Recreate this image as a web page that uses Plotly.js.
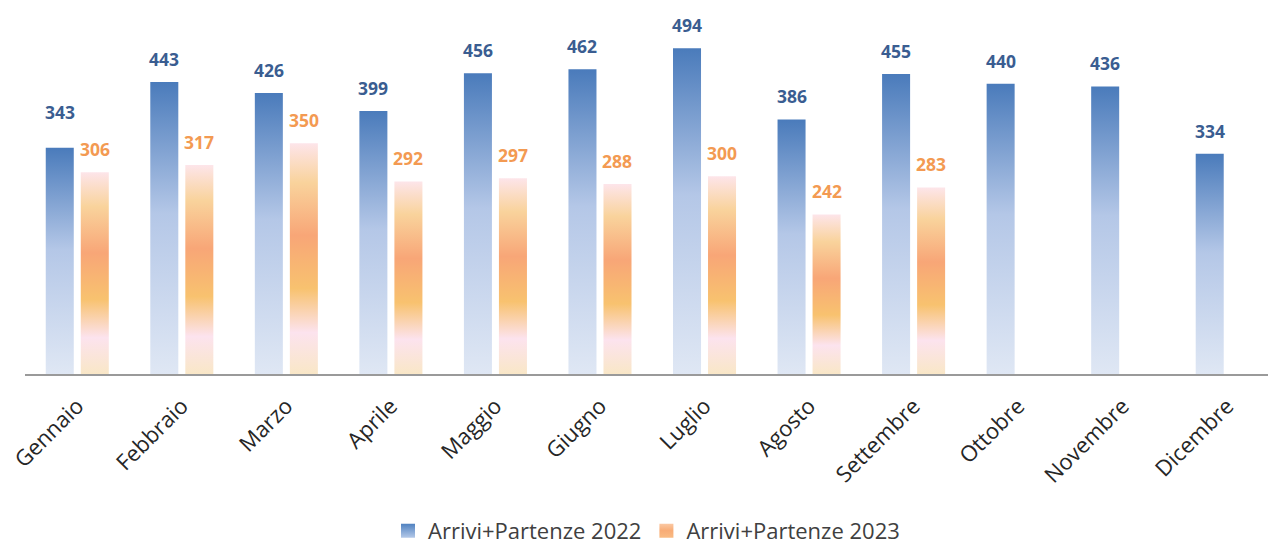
<!DOCTYPE html>
<html>
<head>
<meta charset="utf-8">
<script src="https://cdn.plot.ly/plotly-3.0.1.min.js"></script>
<style>
  html, body { margin: 0; padding: 0; background: #fff; }
  #chart { width: 1268px; height: 545px; }
</style>
</head>
<body>
<div id="chart"></div>
<script>
const months = ["Gennaio","Febbraio","Marzo","Aprile","Maggio","Giugno","Luglio","Agosto","Settembre","Ottobre","Novembre","Dicembre"];
const values2022 = [343,443,426,399,456,462,494,386,455,440,436,334];
const values2023 = [306,317,350,292,297,288,300,242,283,null,null,null];
const seriesNames = ["Arrivi+Partenze 2022","Arrivi+Partenze 2023"];

// styling
const labelColors = ["#3a5d91", "#f39a52"];
const swatchColors = ["#6f97cc", "#f7b27a"];
const gradStops = [
  [[0,"#4a7bbb"],[0.45,"#b4c7e7"],[1,"#dfe7f4"]],
  [[0,"#fde5ea"],[0.17,"#f9d39c"],[0.40,"#f8a677"],[0.63,"#f8c26f"],[0.82,"#fce3ee"],[1,"#f9e7c7"]]
];
const legendStops = [
  [[0,"#4f81c0"],[1,"#b3c8e8"]],
  [[0,"#fbc9a4"],[0.5,"#f8ac76"],[1,"#f9bb83"]]
];
const groupShift = 17.5;
const labelLift = 23;
const extraLift2022 = [13,0,0,0,0,0,0,0,0,0,0,0];

const traces = [values2022, values2023].map((vals, k) => ({
  type: "bar",
  name: seriesNames[k],
  x: months,
  y: vals,
  marker: { color: swatchColors[k], line: { width: 0 } },
  hoverinfo: "skip"
}));

const annotations = [];
[values2022, values2023].forEach((vals, k) => {
  vals.forEach((v, i) => {
    if (v === null) return;
    annotations.push({
      x: months[i], y: v, xref: "x", yref: "y",
      text: String(v), showarrow: false,
      xshift: k === 0 ? -groupShift : groupShift,
      yshift: labelLift + (k === 0 ? extraLift2022[i] : 0),
      font: { family: "Open Sans, sans-serif", size: 17.5, color: labelColors[k], weight: "bold" }
    });
  });
});

const layout = {
  width: 1268, height: 545,
  margin: { l: 25, r: 0, t: 10, b: 171 },
  paper_bgcolor: "#ffffff", plot_bgcolor: "#ffffff",
  barmode: "group", bargap: 0.33, bargroupgap: 0.2,
  font: { family: "Open Sans, sans-serif", color: "#262626" },
  xaxis: {
    type: "category",
    range: [-0.5, 11.39],
    showline: true, linecolor: "#9a9a9a", linewidth: 1.5,
    ticks: "", showgrid: false, zeroline: false,
    tickangle: -45,
    tickfont: { size: 22, color: "#262626" },
    ticklabelstandoff: 9
  },
  yaxis: { range: [0, 552], visible: false, showgrid: false, zeroline: false },
  showlegend: true,
  legend: {
    orientation: "h", x: 0.5, xanchor: "center",
    yref: "container", y: 0.026, yanchor: "middle",
    font: { size: 22, color: "#404040" },
    tracegroupgap: 0
  },
  annotations: annotations
};

function addGradient(defs, id, stops) {
  const svgNS = "http://www.w3.org/2000/svg";
  const g = document.createElementNS(svgNS, "linearGradient");
  g.setAttribute("id", id);
  g.setAttribute("x1", "0"); g.setAttribute("y1", "0");
  g.setAttribute("x2", "0"); g.setAttribute("y2", "1");
  stops.forEach(([o, c]) => {
    const s = document.createElementNS(svgNS, "stop");
    s.setAttribute("offset", o);
    s.setAttribute("stop-color", c);
    g.appendChild(s);
  });
  defs.appendChild(g);
}

Plotly.newPlot("chart", traces, layout, { staticPlot: true, displayModeBar: false }).then(gd => {
  const svgNS = "http://www.w3.org/2000/svg";
  const svg = gd.querySelector("svg.main-svg");
  let defs = svg.querySelector("defs");
  if (!defs) { defs = document.createElementNS(svgNS, "defs"); svg.insertBefore(defs, svg.firstChild); }
  gradStops.forEach((stops, k) => addGradient(defs, "barGrad" + k, stops));
  legendStops.forEach((stops, k) => addGradient(defs, "legGrad" + k, stops));
  gd.querySelectorAll(".barlayer .trace").forEach((t, k) => {
    t.querySelectorAll("path").forEach(p => { p.style.fill = "url(#barGrad" + k + ")"; });
  });
  gd.querySelectorAll(".legend .traces").forEach((t, k) => {
    t.querySelectorAll(".legendpoints path").forEach(p => {
      p.setAttribute("d", "M7,7H-7V-7H7Z");
      p.style.fill = "url(#legGrad" + k + ")";
    });
  });
});
</script>
</body>
</html>
